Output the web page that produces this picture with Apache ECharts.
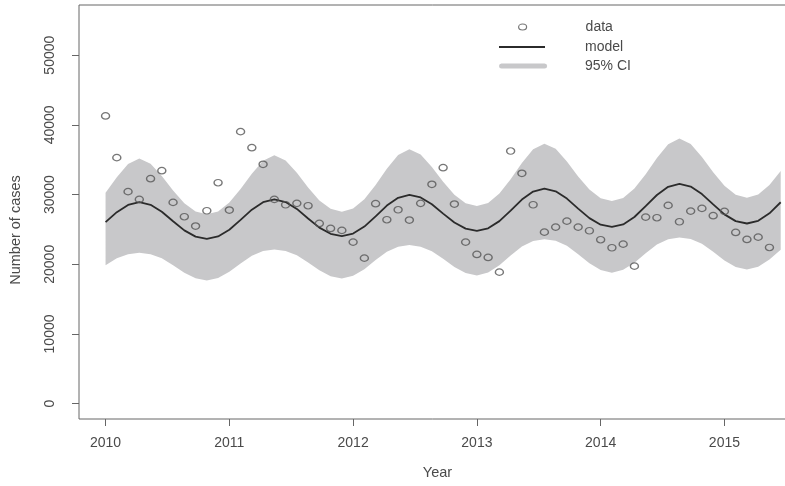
<!DOCTYPE html>
<html>
<head>
<meta charset="utf-8">
<script src="https://cdn.jsdelivr.net/npm/echarts@6/dist/echarts.min.js"></script>
<style>
  html, body { margin: 0; padding: 0; background: #ffffff; }
  #chart { width: 785px; height: 486px; }
</style>
</head>
<body>
<div id="chart"></div>
<script>
// Monthly case counts, January 2010 onwards (month index 0..59)
const observed = [
  41280, 35300, 30420, 29310, 32280, 33430, 28880, 26820, 25480, 27680,
  31700, 27780, 39030, 36730, 34340, 29310, 28540, 28740, 28400, 25860,
  25140, 24860, 23180, 20880, 28690, 26390, 27820, 26340, 28740, 31470,
  33860, 28640, 23180, 21410, 20980, 18870, 36250, 33050, 28540, 24610,
  25330, 26190, 25330, 24810, 23520, 22370, 22890, 19730, 26770, 26680,
  28450, 26100, 27630, 28020, 26970, 27590, 24570, 23560, 23890, 22410
];

// Fitted seasonal model (month index 0..60)
const modelFit = [
  26050, 27480, 28520, 28900, 28530, 27540, 26170, 24860, 23970, 23650,
  23990, 24950, 26360, 27830, 28910, 29300, 28930, 27940, 26570, 25260,
  24370, 24050, 24400, 25410, 26880, 28420, 29540, 29950, 29590, 28610,
  27270, 25990, 25110, 24800, 25160, 26190, 27700, 29280, 30430, 30850,
  30470, 29420, 27990, 26620, 25680, 25350, 25720, 26780, 28330, 29940,
  31120, 31550, 31150, 30070, 28590, 27160, 26190, 25850, 26230, 27310,
  28900
];

// 95% confidence interval bounds (month index 0..60)
const ciUpper = [
  30270, 32500, 34390, 35160, 34440, 32680, 30600, 28760, 27560, 27160,
  27580, 28850, 30800, 33000, 34870, 35630, 34900, 33120, 31020, 29160,
  27950, 27540, 27990, 29330, 31390, 33720, 35690, 36490, 35760, 33970,
  31850, 29980, 28760, 28350, 28800, 30140, 32200, 34530, 36500, 37310,
  36570, 34760, 32610, 30720, 29480, 29070, 29520, 30860, 32920, 35250,
  37220, 38030, 37270, 35400, 33200, 31250, 29970, 29550, 30010, 31380,
  33380
];
const ciLower = [
  19870, 20860, 21450, 21650, 21450, 20850, 19860, 18780, 17990, 17670,
  18030, 18920, 20120, 21240, 21910, 22130, 21920, 21300, 20250, 19130,
  18290, 17960, 18340, 19300, 20600, 21790, 22510, 22750, 22530, 21880,
  20790, 19620, 18750, 18400, 18820, 19860, 21260, 22560, 23340, 23600,
  23360, 22640, 21440, 20140, 19180, 18800, 19200, 20210, 21580, 22840,
  23600, 23850, 23620, 22930, 21780, 20540, 19620, 19250, 19650, 20700,
  22100
];

// Axis ticks: year labels sit at every 11th month index
const yearLabels = ['2010', '2011', '2012', '2013', '2014', '2015'];
const yearTickIndex = [0, 11, 22, 33, 44, 55];
const caseTicks = [0, 10000, 20000, 30000, 40000, 50000];

const FONT = 'Liberation Sans, Arial, Helvetica, sans-serif';
const TEXT = '#4a4a4a';
const AXIS = '#666666';
const BAND = '#c8c8ca';
const LINE = '#2b2b2b';
const DOT = '#555555';

const pairs = arr => arr.map((v, i) => [i, v]);

// Legend icons: each path spans the whole 81x10 item box so nothing is rescaled;
// the visible glyph sits in the left part, leaving a gap before the label.
const BOX = 'M0,0L0,0M81,10L81,10';
const ICON_DOT = 'path://' + BOX + 'M19,5A4,3,0,1,1,27,5A4,3,0,1,1,19,5Z';
const ICON_LINE = 'path://' + BOX + 'M0,4H46V6H0Z';
const ICON_BAND = 'path://' + BOX + 'M1,2.5H45A2.5,2.5,0,0,1,45,7.5H1A2.5,2.5,0,0,1,1,2.5Z';

const chart = echarts.init(document.getElementById('chart'), null, { renderer: 'canvas' });

const legendBase = {
  orient: 'vertical',
  left: 499,
  padding: 0,
  itemWidth: 81,
  itemHeight: 10,
  symbolKeepAspect: false,
  selectedMode: false,
  textStyle: { color: TEXT, fontFamily: FONT, fontSize: 14 }
};

chart.setOption({
  animation: false,
  backgroundColor: '#ffffff',
  grid: {
    left: 79, top: 5, right: -11, bottom: 67,
    outerBoundsMode: 'none',
    show: true, borderColor: AXIS, borderWidth: 1, backgroundColor: 'transparent'
  },
  legend: [
    Object.assign({}, legendBase, {
      top: 20,
      data: [{ name: 'data', icon: ICON_DOT,
        itemStyle: { color: 'rgba(0,0,0,0)', borderColor: DOT, borderWidth: 1.2 } }]
    }),
    Object.assign({}, legendBase, {
      top: 40,
      data: [{ name: 'model', icon: ICON_LINE,
        itemStyle: { color: LINE, borderWidth: 0 } }]
    }),
    Object.assign({}, legendBase, {
      top: 59,
      data: [{ name: '95% CI', icon: ICON_BAND,
        itemStyle: { color: BAND, borderWidth: 0 } }]
    })
  ],
  xAxis: {
    type: 'value',
    min: -2.36, max: 61.36,
    name: 'Year', nameLocation: 'middle', nameGap: 46,
    nameTextStyle: { color: TEXT, fontFamily: FONT, fontSize: 14.5 },
    axisLine: { show: false, onZero: false },
    splitLine: { show: false },
    axisTick: { show: true, length: 7, customValues: yearTickIndex,
      lineStyle: { color: AXIS, width: 1 } },
    axisLabel: { customValues: yearTickIndex, margin: 17, color: TEXT,
      fontFamily: FONT, fontSize: 14,
      formatter: v => yearLabels[yearTickIndex.indexOf(v)] }
  },
  yAxis: {
    type: 'value',
    min: -2200, max: 57200,
    name: 'Number of cases', nameLocation: 'middle', nameGap: 56, nameRotate: 90,
    nameTextStyle: { color: TEXT, fontFamily: FONT, fontSize: 14.5, padding: [0, 36, 0, 0] },
    axisLine: { show: false, onZero: false },
    splitLine: { show: false },
    axisTick: { show: true, length: 7, customValues: caseTicks,
      lineStyle: { color: AXIS, width: 1 } },
    axisLabel: { customValues: caseTicks, rotate: 90, margin: 22, color: TEXT,
      fontFamily: FONT, fontSize: 14, formatter: v => String(v) }
  },
  series: [
    {
      // shaded band between the lower and upper confidence bounds
      name: '95% CI', type: 'custom', data: [[0, ciLower[0]]], silent: true, z: 1,
      itemStyle: { color: BAND },
      renderItem: (params, api) => {
        const pts = [];
        for (let i = 0; i < ciUpper.length; i++) pts.push(api.coord([i, ciUpper[i]]));
        for (let i = ciLower.length - 1; i >= 0; i--) pts.push(api.coord([i, ciLower[i]]));
        return { type: 'polygon', shape: { points: pts }, style: { fill: BAND, stroke: null } };
      }
    },
    {
      name: 'model', type: 'line', data: pairs(modelFit),
      symbol: 'none', silent: true, itemStyle: { color: LINE },
      lineStyle: { color: LINE, width: 1.8 }, z: 2
    },
    {
      name: 'data', type: 'scatter', data: pairs(observed),
      symbol: 'circle', symbolSize: [8, 6.5], silent: true,
      itemStyle: { color: 'rgba(0,0,0,0)', borderColor: DOT, borderWidth: 1.3 }, z: 3
    }
  ]
});
</script>
</body>
</html>
